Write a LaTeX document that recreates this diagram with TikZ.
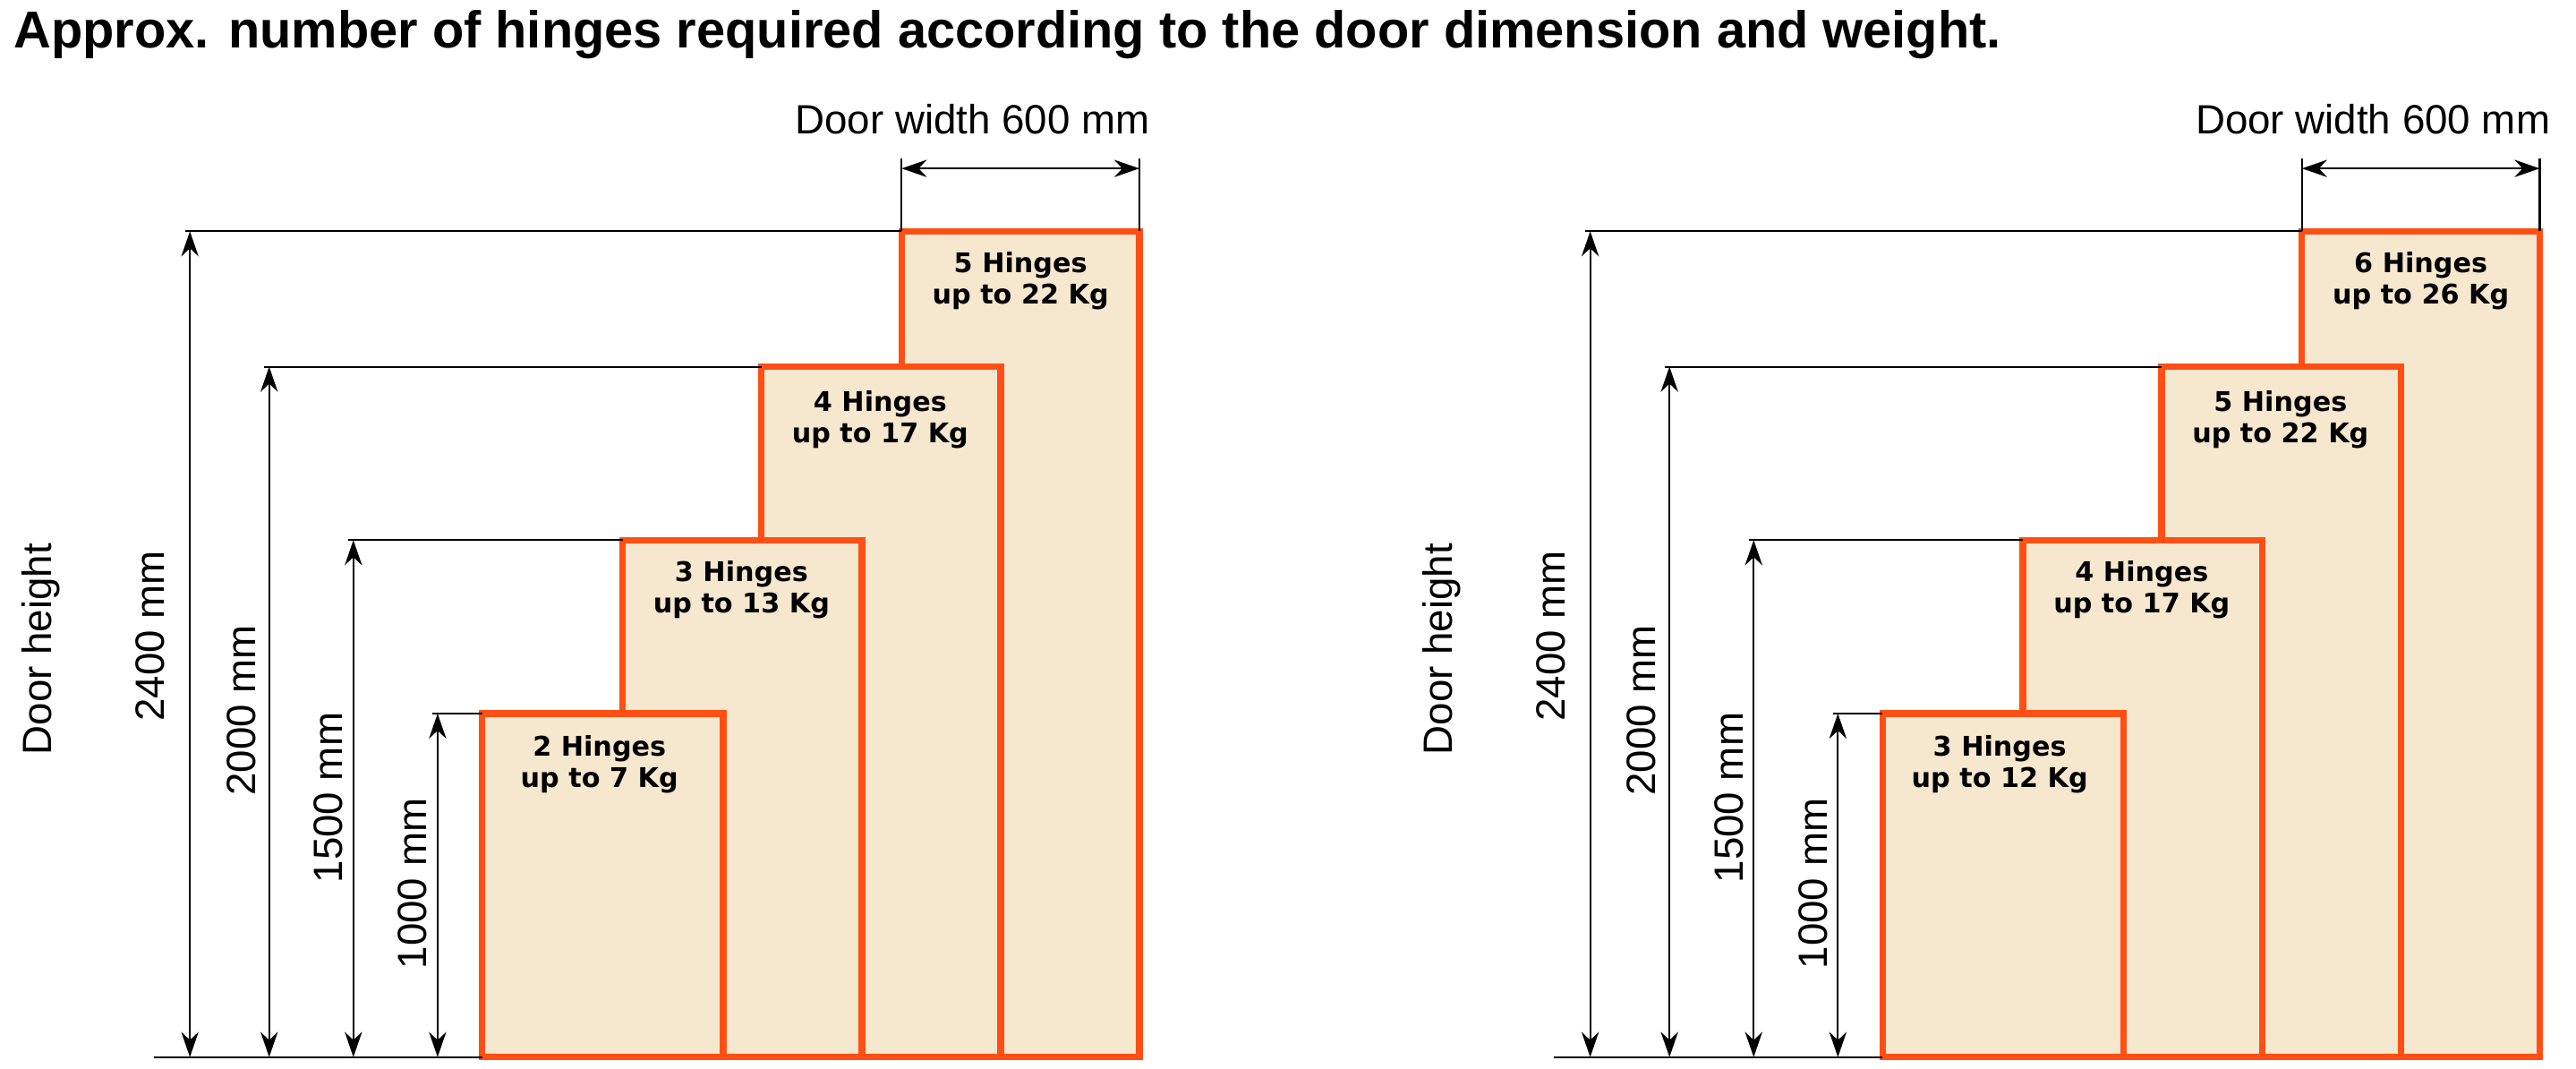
\documentclass[tikz,border=0pt]{standalone}
\usepackage{fontspec}
\setmainfont{Liberation Sans}
\newfontfamily\boxfont{DejaVu Sans}
\usetikzlibrary{arrows.meta}
\definecolor{dor}{HTML}{FF4F14}
\definecolor{dfill}{HTML}{F6E7CF}
\begin{document}
\begin{tikzpicture}[x=0.01845cm,y=-0.01845cm,
  door/.style={draw=dor,fill=dfill,line width=2.1pt},
  dim/.style={line width=0.6pt,{Stealth[length=8pt,width=5.5pt]}-{Stealth[length=8pt,width=5.5pt]}},
  ext/.style={line width=0.6pt},
  lbl/.style={font=\boxfont\bfseries\fontsize{8.6}{10}\selectfont,align=center,inner sep=0pt},
  dlab/.style={font=\fontsize{13}{15}\selectfont,inner sep=0pt}]
\useasboundingbox (0,0) rectangle (1560,647);
\node[anchor=west,inner sep=0pt] (title) at (8,21) {\resizebox{22.2cm}{0.42cm}{\bfseries Approx. number of hinges required according to the door dimension and weight.}};
\foreach \ox/\nm/\la/\lb/\lc/\ld/\ha/\hb/\hc/\hd in {
  0/L/{2 Hinges\\up to 7 Kg}/{3 Hinges\\up to 13 Kg}/{4 Hinges\\up to 17 Kg}/{5 Hinges\\up to 22 Kg}/{456,614}/{351,472,614}/{245,377,482,614}/{162,250,384,486,614},
  848/R/{3 Hinges\\up to 12 Kg}/{4 Hinges\\up to 17 Kg}/{5 Hinges\\up to 22 Kg}/{6 Hinges\\up to 26 Kg}/{456,517,614}/{352,420,547,614}/{245,314,430,547,614}/{162,231,335,441,547,614}}{
\begin{scope}[xshift=\ox*0.01845cm]
  \draw[door] (546,140) rectangle (690,640);
  \draw[door] (461,222) rectangle (606,640);
  \draw[door] (377,327) rectangle (522,640);
  \draw[door] (292,432) rectangle (438,640);
  \node[lbl] (\nm ld) at (618,170) {\ld};
  \node[lbl] (\nm lc) at (533,254) {\lc};
  \node[lbl] (\nm lb) at (449,357) {\lb};
  \node[lbl] (\nm la) at (363,463) {\la};
  \foreach \xr/\hl in {438/\ha,522/\hb,606/\hc,690/\hd}{
    \foreach \yy in \hl {
      \fill[dor] (\xr-5,\yy-4.5) rectangle (\xr-2,\yy+4.5);
      \draw[dor,line width=1.1pt] (\xr-3,\yy) -- (\xr+8,\yy);
    }}
  \coordinate (\nm b0) at (93,640);
  \coordinate (\nm b1) at (292,640);
  \draw[ext] (\nm b0) -- (\nm b1);
  \coordinate (\nm e1) at (112,140); \coordinate (\nm f1) at (546,140);
  \coordinate (\nm e2) at (160,222); \coordinate (\nm f2) at (461,222);
  \coordinate (\nm e3) at (211,327); \coordinate (\nm f3) at (377,327);
  \coordinate (\nm e4) at (262,432); \coordinate (\nm f4) at (292,432);
  \foreach \i in {1,...,4}{\draw[ext] (\nm e\i) -- (\nm f\i);}
  \coordinate (\nm a1) at (115,640); \coordinate (\nm t1) at (115,140);
  \coordinate (\nm a2) at (163,640); \coordinate (\nm t2) at (163,222);
  \coordinate (\nm a3) at (214,640); \coordinate (\nm t3) at (214,327);
  \coordinate (\nm a4) at (265,640); \coordinate (\nm t4) at (265,432);
  \foreach \i in {1,...,4}{\draw[dim] (\nm a\i) -- (\nm t\i);}
  \node[dlab,rotate=90] (\nm h1) at (91,385) {2400 mm};
  \node[dlab,rotate=90] (\nm h2) at (146,430) {2000 mm};
  \node[dlab,rotate=90] (\nm h3) at (199,483) {1500 mm};
  \node[dlab,rotate=90] (\nm h4) at (250,535) {1000 mm};
  \node[dlab,rotate=90] (\nm dh) at (25,393) {Door height};
  \coordinate (\nm w1) at (546,96); \coordinate (\nm w2) at (690,96);
  \coordinate (\nm v1) at (546,140); \coordinate (\nm v2) at (690,140);
  \draw[ext] (\nm w1) -- (\nm v1); \draw[ext] (\nm w2) -- (\nm v2);
  \coordinate (\nm p1) at (546,102); \coordinate (\nm p2) at (690,102);
  \draw[dim] (\nm p1) -- (\nm p2);
  \node[dlab] (\nm dw) at (589,72) {Door width 600 mm};
\end{scope}}
\end{tikzpicture}
\end{document}
